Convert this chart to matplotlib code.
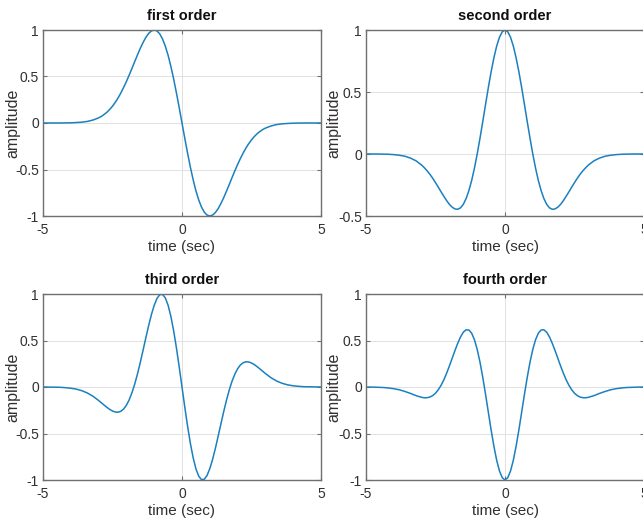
import matplotlib
matplotlib.use("Agg")
import matplotlib.pyplot as plt

# sample times (sec): coarse in the tails, finer in the middle
t = [-5.0, -4.8, -4.6, -4.4, -4.2, -4.0, -3.8, -3.6, -3.4, -3.2,
     -3.0, -2.9, -2.8, -2.7, -2.6, -2.5, -2.4, -2.3, -2.2, -2.1,
     -2.0, -1.9, -1.8, -1.7, -1.6, -1.5, -1.4, -1.3, -1.2, -1.1,
     -1.0, -0.9, -0.8, -0.7, -0.6, -0.5, -0.4, -0.3, -0.2, -0.1,
     0.0,
     0.1, 0.2, 0.3, 0.4, 0.5, 0.6, 0.7, 0.8, 0.9, 1.0,
     1.1, 1.2, 1.3, 1.4, 1.5, 1.6, 1.7, 1.8, 1.9, 2.0,
     2.1, 2.2, 2.3, 2.4, 2.5, 2.6, 2.7, 2.8, 2.9, 3.0,
     3.2, 3.4, 3.6, 3.8, 4.0, 4.2, 4.4, 4.6, 4.8, 5.0]

first = [0.0, 0.0, 0.0, 0.0, 0.001, 0.002, 0.005, 0.009, 0.017, 0.032,
         0.055, 0.071, 0.092, 0.116, 0.146, 0.181, 0.222, 0.269, 0.323, 0.382,
         0.446, 0.515, 0.587, 0.661, 0.733, 0.803, 0.866, 0.921, 0.963, 0.990,
         1.0, 0.990, 0.958, 0.903, 0.826, 0.728, 0.609, 0.473, 0.323, 0.164,
         0.0,
         -0.164, -0.323, -0.473, -0.609, -0.728, -0.826, -0.903, -0.958, -0.990, -1.0,
         -0.990, -0.963, -0.921, -0.866, -0.803, -0.733, -0.661, -0.587, -0.515, -0.446,
         -0.382, -0.323, -0.269, -0.222, -0.181, -0.146, -0.116, -0.092, -0.071, -0.055,
         -0.032, -0.017, -0.009, -0.005, -0.002, -0.001, 0.0, 0.0, 0.0, 0.0]

second = [0.0, 0.0, 0.0, -0.001, -0.002, -0.005, -0.010, -0.018, -0.033, -0.055,
          -0.089, -0.111, -0.136, -0.164, -0.196, -0.231, -0.267, -0.305, -0.341, -0.376,
          -0.406, -0.429, -0.443, -0.446, -0.434, -0.406, -0.360, -0.296, -0.214, -0.115,
          0.0, 0.127, 0.261, 0.399, 0.535, 0.662, 0.775, 0.870, 0.941, 0.985,
          1.0,
          0.985, 0.941, 0.870, 0.775, 0.662, 0.535, 0.399, 0.261, 0.127, 0.0,
          -0.115, -0.214, -0.296, -0.360, -0.406, -0.434, -0.446, -0.443, -0.429, -0.406,
          -0.376, -0.341, -0.305, -0.267, -0.231, -0.196, -0.164, -0.136, -0.111, -0.089,
          -0.055, -0.033, -0.018, -0.010, -0.005, -0.002, -0.001, 0.0, 0.0, 0.0]

third = [0.0, -0.001, -0.002, -0.003, -0.007, -0.013, -0.023, -0.040, -0.065, -0.100,
         -0.145, -0.170, -0.195, -0.219, -0.241, -0.258, -0.269, -0.271, -0.261, -0.237,
         -0.196, -0.138, -0.062, 0.032, 0.142, 0.265, 0.396, 0.530, 0.660, 0.779,
         0.878, 0.952, 0.993, 0.996, 0.958, 0.879, 0.759, 0.604, 0.420, 0.215,
         0.0,
         -0.215, -0.420, -0.604, -0.759, -0.879, -0.958, -0.996, -0.993, -0.952, -0.878,
         -0.779, -0.660, -0.530, -0.396, -0.265, -0.142, -0.032, 0.062, 0.138, 0.196,
         0.237, 0.261, 0.271, 0.269, 0.258, 0.241, 0.219, 0.195, 0.170, 0.145,
         0.100, 0.065, 0.040, 0.023, 0.013, 0.007, 0.003, 0.002, 0.001, 0.0]

fourth = [-0.001, -0.001, -0.003, -0.005, -0.010, -0.018, -0.030, -0.048, -0.069, -0.093,
          -0.111, -0.116, -0.115, -0.108, -0.092, -0.067, -0.030, 0.018, 0.077, 0.148,
          0.226, 0.309, 0.392, 0.470, 0.538, 0.589, 0.615, 0.613, 0.579, 0.509,
          0.404, 0.268, 0.104, -0.078, -0.270, -0.460, -0.636, -0.787, -0.902, -0.975,
          -1.0,
          -0.975, -0.902, -0.787, -0.636, -0.460, -0.270, -0.078, 0.104, 0.268, 0.404,
          0.509, 0.579, 0.613, 0.615, 0.589, 0.538, 0.470, 0.392, 0.309, 0.226,
          0.148, 0.077, 0.018, -0.030, -0.067, -0.092, -0.108, -0.115, -0.116, -0.111,
          -0.093, -0.069, -0.048, -0.030, -0.018, -0.010, -0.005, -0.003, -0.001, -0.001]

titles = ["first order", "second order", "third order", "fourth order"]
series = [first, second, third, fourth]
ylims = [(-1, 1), (-0.5, 1), (-1, 1), (-1, 1)]
yticks = [[-1, -0.5, 0, 0.5, 1], [-0.5, 0, 0.5, 1], [-1, -0.5, 0, 0.5, 1], [-1, -0.5, 0, 0.5, 1]]

plt.rcParams['font.family'] = ['Liberation Sans', 'DejaVu Sans']

fig = plt.figure(figsize=(6.43, 5.2), dpi=100)
W, H = 643.0, 520.0
# axes boxes in pixels: left, top, right, bottom (right column runs past the edge)
boxes = [(43, 30, 321, 216), (366, 30, 644, 216), (43, 294, 321, 480), (366, 294, 644, 480)]
ylab_x = [-0.083, -0.088, -0.083, -0.088]

for i in range(4):
    l, tp, r, b = boxes[i]
    ax = fig.add_axes([l / W, 1 - b / H, (r - l) / W, (b - tp) / H])
    ax.plot(t, series[i], color='#1a80c0', linewidth=1.1)
    ax.set_xlim(-5, 5)
    ax.set_ylim(*ylims[i])
    ax.set_xticks([-5, 0, 5])
    ax.set_yticks(yticks[i])
    ax.set_xticklabels(['-5', '0', '5'])
    ax.set_yticklabels([('%g' % v) for v in yticks[i]])
    ax.grid(True, color='#dcdcdc', linewidth=0.6)
    ax.set_axisbelow(True)
    for s in ax.spines.values():
        s.set_color('#707070')
        s.set_linewidth(1.0)
    ax.tick_params(direction='in', length=3, width=0.8, color='#707070',
                   labelsize=10, labelcolor='#303030', top=True, right=True)
    ax.tick_params(axis='x', pad=5)
    ax.tick_params(axis='y', pad=3)
    ax.set_title(titles[i], fontsize=10.5, fontweight='bold', pad=7, color='#101010')
    ax.set_xlabel('time (sec)', fontsize=11, labelpad=2, color='#303030')
    ax.set_ylabel('amplitude', fontsize=11.5, color='#303030')
    ax.yaxis.set_label_coords(ylab_x[i], 0.5)

fig.savefig('out.png', dpi=100)
